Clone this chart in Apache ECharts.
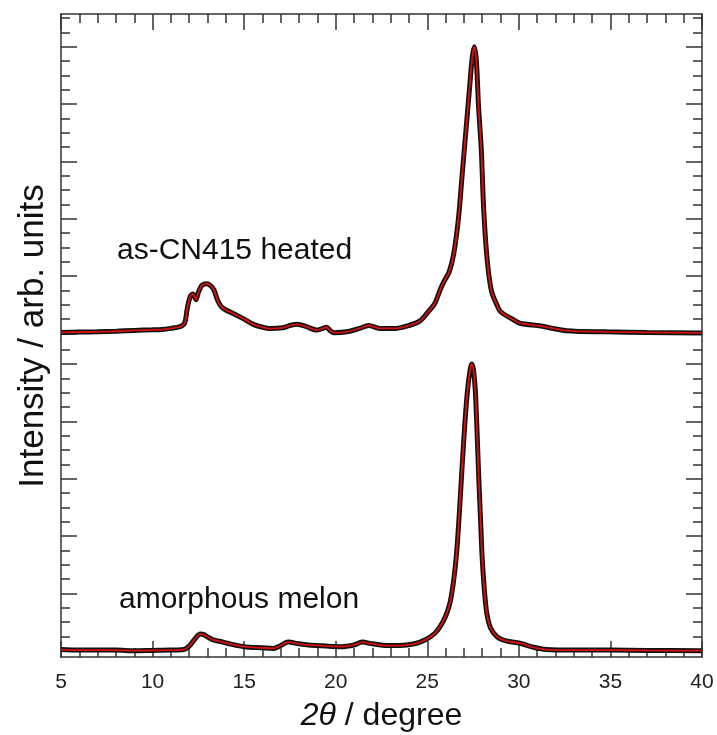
<!DOCTYPE html>
<html>
<head>
<meta charset="utf-8">
<script src="https://cdn.jsdelivr.net/npm/echarts@6/dist/echarts.min.js"></script>
<style>
  html, body { margin: 0; padding: 0; background: #fff; }
  #main { width: 717px; height: 735px; }
</style>
</head>
<body>
<div id="main"></div>
<script>
// 2theta / degree and normalised intensity (peak = 5)
var thetaHeated = [5.0, 6.0, 7.0, 8.0, 9.0, 10.0, 10.5, 11.0, 11.5, 11.75, 11.9, 12.05, 12.2, 12.37, 12.5, 12.7, 12.95, 13.15, 13.35, 13.55, 13.75, 14.0, 14.4, 14.95, 15.5, 16.0, 16.4, 17.1, 17.5, 17.9, 18.4, 18.96, 19.3, 19.5, 19.7, 19.9, 20.6, 21.3, 21.8, 22.4, 23.3, 24.0, 24.6, 25.0, 25.4, 25.7, 25.9, 26.2, 26.45, 26.7, 26.9, 27.1, 27.3, 27.45, 27.57, 27.68, 27.8, 27.95, 28.06, 28.2, 28.35, 28.52, 28.8, 29.0, 29.7, 30.06, 31.2, 32.6, 34.8, 37.0, 40.0];
var intHeated = [0.02, 0.025, 0.03, 0.04, 0.055, 0.065, 0.07, 0.09, 0.12, 0.18, 0.45, 0.64, 0.69, 0.59, 0.72, 0.84, 0.87, 0.84, 0.76, 0.58, 0.47, 0.41, 0.35, 0.26, 0.16, 0.11, 0.087, 0.10, 0.14, 0.16, 0.12, 0.06, 0.09, 0.11, 0.05, 0.015, 0.03, 0.09, 0.14, 0.09, 0.09, 0.14, 0.22, 0.36, 0.52, 0.76, 0.90, 1.08, 1.40, 2.0, 2.75, 3.5, 4.25, 4.8, 5.0, 4.75, 3.95, 3.2, 2.3, 1.55, 1.05, 0.72, 0.5, 0.38, 0.24, 0.18, 0.13, 0.05, 0.03, 0.02, 0.01];

var thetaMelon = [5.0, 6.0, 7.0, 8.0, 9.0, 10.0, 11.0, 11.7, 12.0, 12.3, 12.6, 12.8, 13.0, 13.3, 13.7, 14.2, 15.0, 16.0, 16.6, 17.0, 17.4, 18.0, 18.5, 19.5, 20.3, 21.0, 21.45, 22.0, 22.8, 23.5, 24.3, 24.9, 25.4, 25.7, 26.0, 26.25, 26.45, 26.6, 26.75, 26.9, 27.05, 27.2, 27.35, 27.43, 27.52, 27.62, 27.72, 27.8, 27.9, 28.0, 28.12, 28.25, 28.45, 28.8, 29.3, 30.06, 30.8, 31.5, 33.0, 35.0, 37.0, 40.0];
var intMelon = [0.02, 0.01, 0.01, 0.01, 0.0, 0.005, 0.01, 0.02, 0.08, 0.2, 0.29, 0.28, 0.24, 0.19, 0.16, 0.12, 0.07, 0.05, 0.04, 0.09, 0.15, 0.12, 0.10, 0.08, 0.07, 0.1, 0.15, 0.12, 0.09, 0.09, 0.12, 0.19, 0.3, 0.42, 0.6, 0.85, 1.25, 1.7, 2.4, 3.2, 3.95, 4.55, 4.92, 5.0, 4.9, 4.55, 3.8, 3.1, 2.35, 1.6, 1.05, 0.65, 0.4, 0.245, 0.17, 0.13, 0.06, 0.02, 0.01, 0.01, 0.005, 0.0];

var yMajor = [0, 1, 2, 3, 4, 5];
var yMinorTop = [0.25, 0.5, 0.75, 1.25, 1.5, 1.75, 2.25, 2.5, 2.75, 3.25, 3.5, 3.75, 4.25, 4.5, 4.75, 5.25, 5.5];
var yMinorBottom = [0.25, 0.5, 0.75, 1.25, 1.5, 1.75, 2.25, 2.5, 2.75, 3.25, 3.5, 3.75, 4.25, 4.5, 4.75, 5.25];

function pairs(xs, ys) {
    var out = [];
    for (var i = 0; i < xs.length; i++) {
        out.push([xs[i], ys[i]]);
    }
    return out;
}

var axisColor = '#333333';
var font = 'Liberation Sans, Arial, sans-serif';

function xAxisFor(grid, pos, labels) {
    return {
        type: 'value', gridIndex: grid, position: pos,
        min: 5, max: 40, interval: 5,
        axisLine: { show: true, onZero: false, lineStyle: { color: axisColor, width: 1.5 } },
        axisTick: { show: true, inside: true, length: 16, lineStyle: { color: axisColor, width: 1.5 } },
        minorTick: { show: true, splitNumber: 5, length: 9, lineStyle: { color: axisColor, width: 1.5 } },
        splitLine: { show: false },
        minorSplitLine: { show: false },
        axisLabel: { show: labels, margin: 15, fontSize: 21, color: '#222', fontFamily: font },
        name: labels ? '{i|2θ} / degree' : '',
        nameLocation: 'middle',
        nameGap: 43,
        nameTextStyle: {
            fontSize: 32, color: '#111', fontFamily: font,
            rich: { i: { fontSize: 32, fontStyle: 'italic', color: '#111', fontFamily: font } }
        }
    };
}

function yAxisFor(grid, pos, lo, hi, ticks, len, line) {
    return {
        type: 'value', gridIndex: grid, position: pos,
        min: lo, max: hi,
        axisLine: { show: line, onZero: false, lineStyle: { color: axisColor, width: 1.5 } },
        axisTick: { show: true, inside: true, length: len, customValues: ticks, lineStyle: { color: axisColor, width: 1.5 } },
        axisLabel: { show: false },
        splitLine: { show: false }
    };
}

var topLo = -0.13, topHi = 5.57;
var botLo = -0.11, botHi = 5.4;

var myChart = echarts.init(document.getElementById('main'));

var option = {
    backgroundColor: '#ffffff',
    animation: false,
    grid: [
        { left: 61, right: 15, top: 14, height: 327 },
        { left: 61, right: 15, top: 341, height: 316 }
    ],
    xAxis: [
        xAxisFor(0, 'top', false),
        xAxisFor(1, 'bottom', true)
    ],
    yAxis: [
        yAxisFor(0, 'left', topLo, topHi, yMajor, 16, true),
        yAxisFor(0, 'left', topLo, topHi, yMinorTop, 9, false),
        yAxisFor(0, 'right', topLo, topHi, yMajor, 16, true),
        yAxisFor(0, 'right', topLo, topHi, yMinorTop, 9, false),
        yAxisFor(1, 'left', botLo, botHi, yMajor, 16, true),
        yAxisFor(1, 'left', botLo, botHi, yMinorBottom, 9, false),
        yAxisFor(1, 'right', botLo, botHi, yMajor, 16, true),
        yAxisFor(1, 'right', botLo, botHi, yMinorBottom, 9, false)
    ],
    series: [
        {
            name: 'heated data', type: 'line', xAxisIndex: 0, yAxisIndex: 0,
            data: pairs(thetaHeated, intHeated), showSymbol: false, smooth: 0.3,
            lineStyle: { color: '#111111', width: 5 }, z: 2
        },
        {
            name: 'heated fit', type: 'line', xAxisIndex: 0, yAxisIndex: 0,
            data: pairs(thetaHeated, intHeated), showSymbol: false, smooth: 0.3,
            lineStyle: { color: '#d81010', width: 1.8 }, z: 3
        },
        {
            name: 'melon data', type: 'line', xAxisIndex: 1, yAxisIndex: 4,
            data: pairs(thetaMelon, intMelon), showSymbol: false, smooth: 0.3,
            lineStyle: { color: '#111111', width: 5 }, z: 2
        },
        {
            name: 'melon fit', type: 'line', xAxisIndex: 1, yAxisIndex: 4,
            data: pairs(thetaMelon, intMelon), showSymbol: false, smooth: 0.3,
            lineStyle: { color: '#d81010', width: 1.8 }, z: 3
        }
    ],
    graphic: [
        {
            type: 'text', left: 117, top: 236,
            style: { text: 'as-CN415 heated', fontSize: 30, fontFamily: font, fill: '#111' }
        },
        {
            type: 'text', left: 119, top: 585,
            style: { text: 'amorphous melon', fontSize: 30, fontFamily: font, fill: '#111' }
        },
        {
            type: 'text', x: 33, y: 336, rotation: Math.PI / 2,
            style: { text: 'Intensity / arb. units', fontSize: 35, fontFamily: font, fill: '#111', align: 'center', verticalAlign: 'middle' }
        }
    ]
};

myChart.setOption(option);
</script>
</body>
</html>
